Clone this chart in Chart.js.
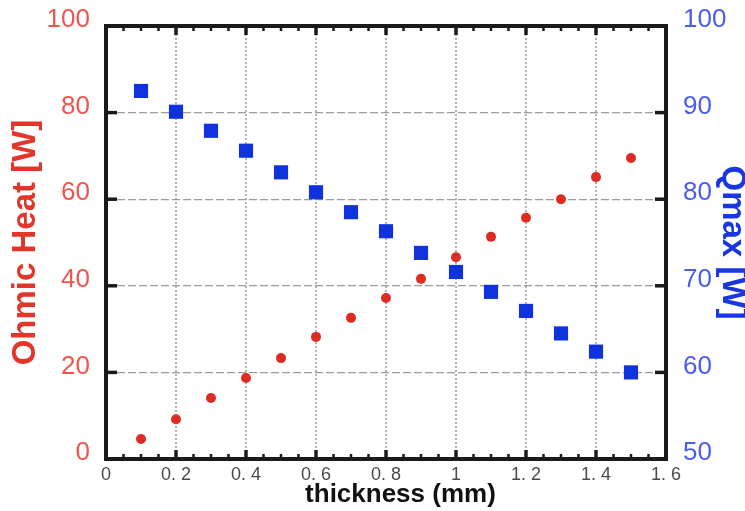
<!DOCTYPE html>
<html>
<head>
<meta charset="utf-8">
<script src="https://cdn.jsdelivr.net/npm/chart.js@4.4.1/dist/chart.umd.min.js"></script>
<style>
html, body { margin: 0; padding: 0; background: #fff; }
</style>
</head>
<body>
<canvas id="chart" width="745" height="511"></canvas>
<script>
// thickness (mm) on x, two series on separate y axes
const thickness = [0.1, 0.2, 0.3, 0.4, 0.5, 0.6, 0.7, 0.8, 0.9, 1.0, 1.1, 1.2, 1.3, 1.4, 1.5];
const ohmicHeat = [4.6, 9.2, 14.1, 18.7, 23.3, 28.2, 32.6, 37.2, 41.6, 46.6, 51.3, 55.7, 60.0, 65.1, 69.5];
const qmax = [92.5, 90.1, 87.9, 85.6, 83.1, 80.8, 78.5, 76.3, 73.8, 71.6, 69.3, 67.1, 64.5, 62.4, 60.0];

const xRange = [0, 1.6];
const leftRange = [0, 100];
const rightRange = [50, 100];

const RED = '#de2c22';
const BLUE = '#0f32dc';

// frame + inward tick marks, like the original plot
const framePlugin = {
    id: 'frame',
    afterDatasetsDraw(chart) {
        const ctx = chart.ctx;
        const a = chart.chartArea;
        const xs = chart.scales.x;
        ctx.save();
        ctx.strokeStyle = '#1a1a1a';

        // minor/major ticks on top and bottom
        for (let i = 0; i <= 32; i++) {
            const px = xs.getPixelForValue(i * 0.05);
            const major = i % 4 === 0;
            const len = major ? 9 : 5;
            ctx.lineWidth = major ? 3.5 : 2.5;
            ctx.beginPath();
            ctx.moveTo(px, a.bottom);
            ctx.lineTo(px, a.bottom - len);
            ctx.moveTo(px, a.top);
            ctx.lineTo(px, a.top + len);
            ctx.stroke();
        }

        ctx.lineWidth = 3.5;
        chart.scales.y.ticks.forEach(t => {
            const py = chart.scales.y.getPixelForValue(t.value);
            ctx.beginPath();
            ctx.moveTo(a.left, py);
            ctx.lineTo(a.left + 11, py);
            ctx.stroke();
        });
        chart.scales.y1.ticks.forEach(t => {
            const py = chart.scales.y1.getPixelForValue(t.value);
            ctx.beginPath();
            ctx.moveTo(a.right, py);
            ctx.lineTo(a.right - 11, py);
            ctx.stroke();
        });

        ctx.lineWidth = 4;
        ctx.strokeRect(a.left, a.top, a.right - a.left, a.bottom - a.top);
        ctx.restore();
    }
};

new Chart(document.getElementById('chart'), {
    type: 'scatter',
    data: {
        datasets: [
            {
                label: 'Ohmic Heat',
                data: thickness.map((t, i) => ({ x: t, y: ohmicHeat[i] })),
                yAxisID: 'y',
                pointStyle: 'circle',
                pointRadius: 5,
                pointBackgroundColor: RED,
                pointBorderWidth: 0
            },
            {
                label: 'Qmax',
                data: thickness.map((t, i) => ({ x: t, y: qmax[i] })),
                yAxisID: 'y1',
                pointStyle: 'rect',
                pointRadius: 10,
                pointBackgroundColor: BLUE,
                pointBorderWidth: 0
            }
        ]
    },
    options: {
        responsive: false,
        animation: false,
        devicePixelRatio: 1,
        layout: { padding: { top: 26, left: 0, right: 0, bottom: 0 } },
        plugins: {
            legend: { display: false },
            tooltip: { enabled: false }
        },
        scales: {
            x: {
                type: 'linear',
                min: xRange[0],
                max: xRange[1],
                afterFit: s => { s.height = 52; s.paddingLeft = 0; s.paddingRight = 0; },
                ticks: {
                    stepSize: 0.2,
                    padding: 5,
                    color: '#4a4a4a',
                    font: { family: 'Liberation Sans', size: 18 },
                    maxRotation: 0,
                    callback: v => {
                        const r = Math.round(v * 10) / 10;
                        return Number.isInteger(r) ? String(r) : r.toFixed(1).replace('.', '. ');
                    }
                },
                grid: {
                    drawTicks: false,
                    color: ctx => (ctx.tick && (ctx.tick.value === xRange[0] || ctx.tick.value === xRange[1])) ? 'rgba(0,0,0,0)' : '#b3b3b3',
                    lineWidth: 2
                },
                border: { display: false, dash: [2, 2] },
                title: {
                    display: true,
                    text: '    thickness (mm)',
                    color: '#111',
                    font: { family: 'Liberation Sans', size: 26, weight: 'bold', lineHeight: 1 },
                    padding: { top: 0, bottom: 3 }
                }
            },
            y: {
                position: 'left',
                min: leftRange[0],
                max: leftRange[1],
                afterFit: s => { s.width = 106; s.paddingTop = 0; s.paddingBottom = 0; },
                ticks: {
                    stepSize: 20,
                    padding: 16,
                    labelOffset: -6,
                    color: '#ef5550',
                    font: { family: 'Liberation Sans', size: 26 }
                },
                grid: {
                    drawTicks: false,
                    color: '#9c9c9c',
                    lineWidth: 1.2
                },
                border: { display: false, dash: [8, 3] },
                title: {
                    display: true,
                    text: 'Ohmic Heat [W]',
                    color: '#e3362b',
                    font: { family: 'Liberation Sans', size: 33, weight: 'bold', lineHeight: 1 },
                    padding: { top: 9, bottom: 0 }
                }
            },
            y1: {
                position: 'right',
                min: rightRange[0],
                max: rightRange[1],
                afterFit: s => { s.width = 79; s.paddingTop = 0; s.paddingBottom = 0; },
                ticks: {
                    stepSize: 10,
                    padding: 17,
                    labelOffset: -6,
                    color: '#4a5cf0',
                    font: { family: 'Liberation Sans', size: 26 }
                },
                grid: { display: false, drawTicks: false },
                border: { display: false },
                title: {
                    display: true,
                    text: 'Qmax [W]',
                    color: '#1836e2',
                    font: { family: 'Liberation Sans', size: 33, weight: 'bold', lineHeight: 1 },
                    padding: { top: -4, bottom: 0 }
                }
            }
        }
    },
    plugins: [framePlugin]
});
</script>
</body>
</html>
